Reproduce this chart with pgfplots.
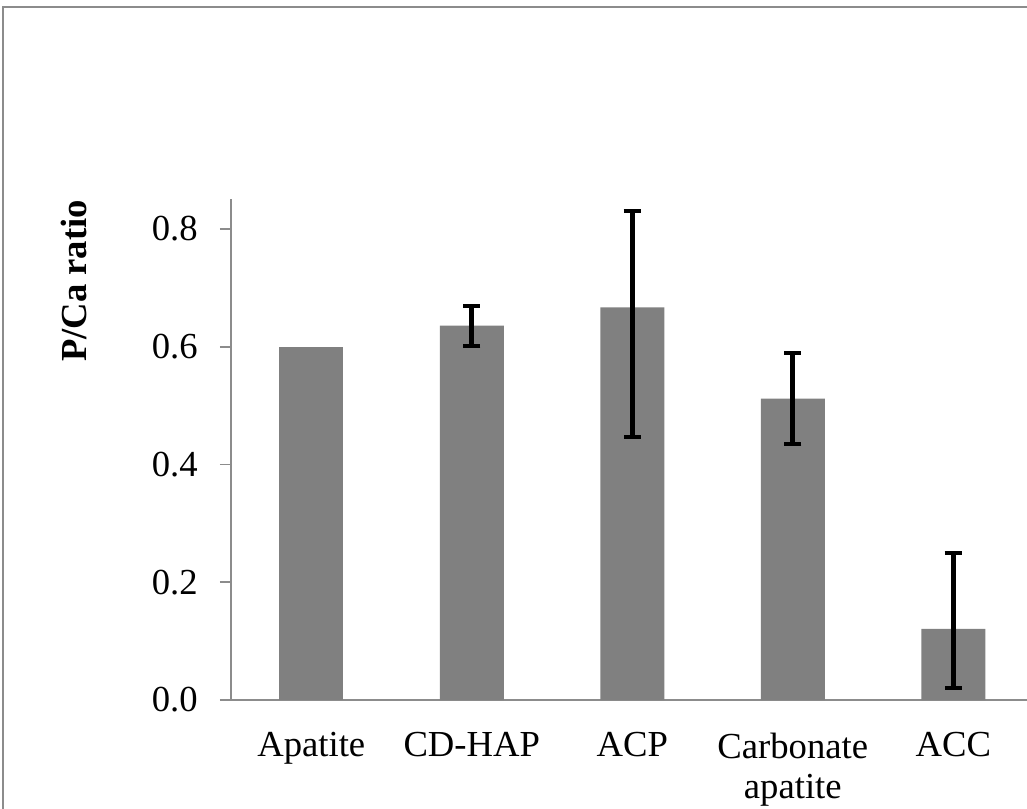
\documentclass[border=0pt]{standalone}
\usepackage{pgfplots}
\pgfplotsset{compat=1.18}
\usepackage{fontspec}
\setmainfont{Liberation Serif}
\definecolor{barg}{HTML}{808080}
\definecolor{axg}{HTML}{8C8C8C}
\begin{document}
\begin{tikzpicture}
% page = 1027 x 808 px at 0.75pt per px
\useasboundingbox (0,0) rectangle (770.25pt,606pt);
\draw[axg,line width=1.3pt] (2.25pt,-20pt) -- (2.25pt,600.75pt) -- (800pt,600.75pt);
\node[rotate=90,font=\fontsize{27.5}{30}\selectfont\bfseries] at (55.5pt,395.25pt) {P/Ca ratio};
\begin{axis}[
  at={(173.25pt,81pt)},anchor=south west,
  scale only axis,width=601.9pt,height=375.75pt,
  xmin=-0.5,xmax=4.5,ymin=0,ymax=0.851,
  axis x line=bottom,axis y line=left,
  axis line style={-,axg,line width=1.2pt},
  ybar,bar width=48pt,bar shift=0pt,
  xtick={0,1,2,3,4},
  xticklabels={Apatite,CD-HAP,ACP,{Carbonate\\apatite},ACC},
  x tick style={draw=none},
  extra x ticks={-0.5,0.5,1.5,2.5,3.5,4.5},
  extra x tick labels={},
  extra x tick style={tick style={draw=axg,line width=1.2pt},major tick length=8pt,tick align=outside},
  ytick={0,0.2,0.4,0.6,0.8},
  y tick style={draw=axg,line width=1.2pt},
  tick align=outside,major tick length=8.25pt,
  tick label style={font=\fontsize{27.5}{30}\selectfont},
  xticklabel style={align=center,anchor=north,inner sep=0pt,yshift=-16pt},
  /pgf/number format/fixed,/pgf/number format/fixed zerofill,
  /pgf/number format/precision=1,/pgf/number format/assume math mode=true,
  yticklabel style={anchor=east,inner sep=0pt,xshift=-16.5pt},
]
\addplot[fill=barg,draw=none] coordinates {(0,0.600)};
\addplot[fill=barg,draw=none,
  error bars/y dir=both,error bars/y explicit,
  error bars/error bar style={black,line width=3.5pt},
  error bars/error mark options={rotate=90,mark size=6.5pt,line width=3pt,black}]
  coordinates {
  (1,0.636) += (0,0.034) -= (0,0.035)
  (2,0.667) += (0,0.163) -= (0,0.221)
  (3,0.512) += (0,0.078) -= (0,0.077)
  (4,0.121) += (0,0.129) -= (0,0.101)
};
\end{axis}
\end{tikzpicture}
\end{document}
